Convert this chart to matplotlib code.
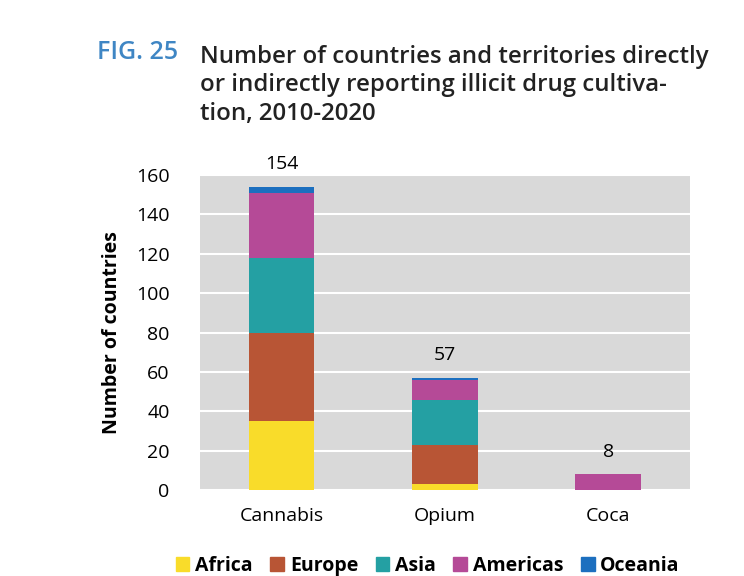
import numpy as np
import matplotlib.pyplot as plt
from matplotlib.patches import Patch

drugs = ['Cannabis', 'Opium', 'Coca']
regions = ['Africa', 'Europe', 'Asia', 'Americas', 'Oceania']
africa = [35, 3, 0]
europe = [45, 20, 0]
asia = [38, 23, 0]
americas = [33, 10, 8]
oceania = [3, 1, 0]
totals = [154, 57, 8]

cols = ['#f9dc2a', '#b85535', '#24a0a3', '#b54a97', '#1c6fbf']

plt.rcParams['font.family'] = ['Open Sans', 'DejaVu Sans']

fig = plt.figure(figsize=(7.44, 5.76), dpi=100)
ax = fig.add_axes([0.269, 0.149, 0.658, 0.547])
ax.set_facecolor('#d9d9d9')

x = np.arange(len(drugs))
bottom = np.zeros(len(drugs))
for vals, c in zip([africa, europe, asia, americas, oceania], cols):
    ax.bar(x, vals, 0.4, bottom=bottom, color=c, zorder=3)
    bottom += np.array(vals)

for xi, t in zip(x, totals):
    ax.text(xi, t + 7, str(t), ha='center', va='bottom', fontsize=14)

ax.set_xlim(-0.5, 2.5)
ax.set_ylim(0, 160)
ax.set_yticks(range(0, 161, 20))
ax.yaxis.grid(True, color='white', linewidth=1.5, zorder=0)
ax.set_axisbelow(True)
ax.set_xticks(x)
ax.set_xticklabels(drugs, fontsize=14)
ax.tick_params(axis='y', labelsize=14, length=0, pad=22)
ax.tick_params(axis='x', length=0, pad=12)
for s in ax.spines.values():
    s.set_visible(False)
ax.set_ylabel('Number of countries', fontsize=14, fontweight='bold', labelpad=10)

fig.text(0.130, 0.908, 'FIG. 25', color='#3f86c4', fontsize=18, fontweight='semibold', va='center')
fig.text(0.269, 0.852, 'Number of countries and territories directly\nor indirectly reporting illicit drug cultiva-\ntion, 2010-2020',
         color='#222222', fontsize=17.3, fontweight='semibold', va='center', linespacing=1.25)

handles = [Patch(color=c) for c in cols]
fig.legend(handles, regions, loc='center', bbox_to_anchor=(0.575, 0.018), ncol=5, frameon=False,
           prop={'size': 14, 'weight': 'bold'}, handlelength=0.7, handleheight=0.7,
           handletextpad=0.3, columnspacing=0.9)

fig.savefig('out.png', dpi=100)
